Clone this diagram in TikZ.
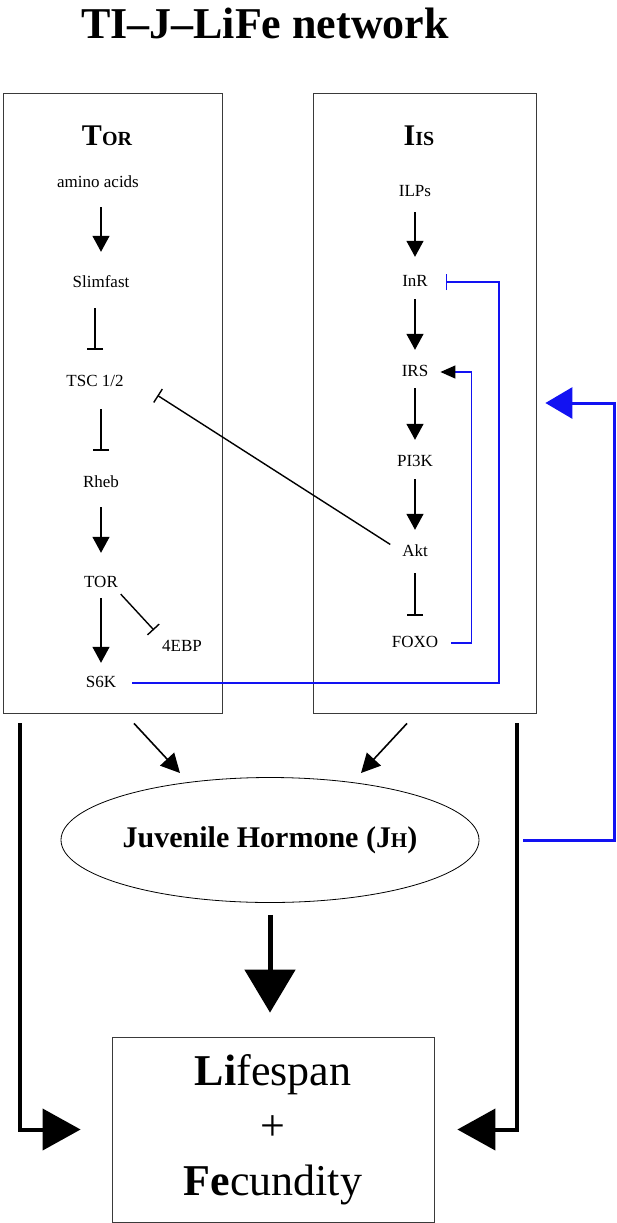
\documentclass[tikz,border=0pt]{standalone}
\usepackage{fontspec}
\setmainfont{Liberation Serif}
\usetikzlibrary{arrows.meta,positioning,shapes.geometric}
\definecolor{Azul}{HTML}{1212F2}
\definecolor{GrisOscuro}{HTML}{3A3A3A}

\begin{document}
\begin{tikzpicture}[x=1pt,y=-1pt,
  gen/.style={font=\fontsize{17}{17}\selectfont,inner sep=0pt,text height=12pt,text depth=4pt,anchor=base},
  cabeza/.style={font=\bfseries\fontsize{20}{20}\selectfont,anchor=base},
  caja/.style={draw=GrisOscuro,line width=0.8pt,inner sep=0pt},
  act/.style={line width=1.4pt,-{Triangle[width=17pt,length=16pt]}},
  inh/.style={line width=1.4pt,-{Bar[width=16pt]}},
  azulinh/.style={Azul,line width=1.3pt,-{Bar[width=16pt]}},
  azulact/.style={Azul,line width=1.3pt,-{Triangle[width=13pt,length=15pt,black]}},
  retro/.style={Azul,line width=3pt,-{Triangle[width=31pt,length=27pt]}},
  grueso/.style={line width=4pt,-{Triangle[width=41pt,length=38pt]}},
  diag/.style={line width=1.6pt,-{Triangle[width=19pt,length=19pt]}}]
  \useasboundingbox (0,0) rectangle (616,1223);
  \node[anchor=base,font=\bfseries\fontsize{44}{44}\selectfont] (titulo) at (265,39)
    {TI--J--LiFe network};
  % the two pathway boxes
  \node[caja,minimum width=219pt,minimum height=620pt] (torbox) at (112.5,403) {};
  \node[caja,minimum width=223pt,minimum height=620pt] (iisbox) at (424.5,403) {};
  \node[cabeza] (torhead) at (107,145) {{\fontsize{30}{30}\selectfont T}OR};
  \node[cabeza] (iishead) at (419,145) {{\fontsize{30}{30}\selectfont I}IS};
  % TOR branch
  \node[gen] (aa) at (98,187) {amino acids};
  \node[gen] (slim) at (101,287) {Slimfast};
  \node[gen] (tsc) at (95,386) {TSC 1/2};
  \node[gen] (rheb) at (101,487) {Rheb};
  \node[gen] (tor) at (101,587) {TOR};
  \node[gen] (ebp) at (182,651) {4EBP};
  \node[gen] (s6k) at (101,687) {S6K};
  % IIS branch
  \node[gen] (ilps) at (415,196) {ILPs};
  \node[gen] (inr) at (415,286) {InR};
  \node[gen] (irs) at (415,376) {IRS};
  \node[gen] (pik) at (415,466) {PI3K};
  \node[gen] (akt) at (415,556) {Akt};
  \node[gen] (foxo) at (415,647) {FOXO};
  \foreach \a/\b/\s/\e in {aa/slim/16pt/23pt,rheb/tor/16pt/22pt,tor/s6k/7pt/12pt,
      ilps/inr/12pt/17pt,inr/irs/9pt/14pt,irs/pik/8pt/14pt,pik/akt/9pt/14pt}
    \draw[act,shorten <=\s,shorten >=\e] (\a.south -| \b.north) -- (\b.north);
  \foreach \a/\b/\s/\e in {slim/tsc/17pt/24pt,tsc/rheb/19pt/24pt,akt/foxo/13pt/19pt}
    \draw[inh,shorten <=\s,shorten >=\e] (\a.south -| \b.north) -- (\b.north);
  \draw[inh,shorten <=4pt,shorten >=12pt] (tor.south east) -- (ebp.north west);
  \draw[inh,shorten <=14pt,shorten >=40pt] (akt.west) -- (tsc.north east);
  % feedback loops
  \draw[azulinh,shorten <=16pt,shorten >=18pt] (s6k.east) -| ([xshift=71pt]inr.east) -- (inr.east);
  \draw[azulact,shorten <=13pt,shorten >=12pt] (foxo.east) -| ([xshift=43pt]irs.east) -- (irs.east);
  % hormone and output
  \node[draw,ellipse,line width=0.8pt,minimum width=418pt,minimum height=125pt,inner sep=0pt,
    font=\bfseries\fontsize{30}{30}\selectfont] (jh) at (270,840)
    {Juvenile Hormone ({J\fontsize{21}{21}\selectfont H})};
  \node[caja,minimum width=322pt,minimum height=185pt,align=center,
    font=\fontsize{44}{55}\selectfont] (life) at (273,1129.5)
    {\textbf{Li}fespan\\+\\\textbf{Fe}cundity};
  \draw[diag] ([xshift=21.5pt,yshift=-10pt]torbox.south) -- ([xshift=-90pt,yshift=67pt]jh.center);
  \draw[diag] ([xshift=-17.5pt,yshift=-10pt]iisbox.south) -- ([xshift=91pt,yshift=67pt]jh.center);
  \draw[line width=5pt,-{Triangle[width=50pt,length=43pt]},shorten <=12pt,shorten >=24pt]
    (jh.south) -- (jh.south |- life.north);
  \draw[grueso,shorten >=31pt] ([xshift=17pt,yshift=-10pt]torbox.south west) |- (life.west);
  \draw[grueso,shorten >=23pt] ([xshift=-19pt,yshift=-10pt]iisbox.south east) |- (life.east);
  \draw[retro,shorten <=44pt,shorten >=9pt] (jh.east) -| ([xshift=78pt]iisbox.east) -- (iisbox.east);
\end{tikzpicture}
\end{document}
